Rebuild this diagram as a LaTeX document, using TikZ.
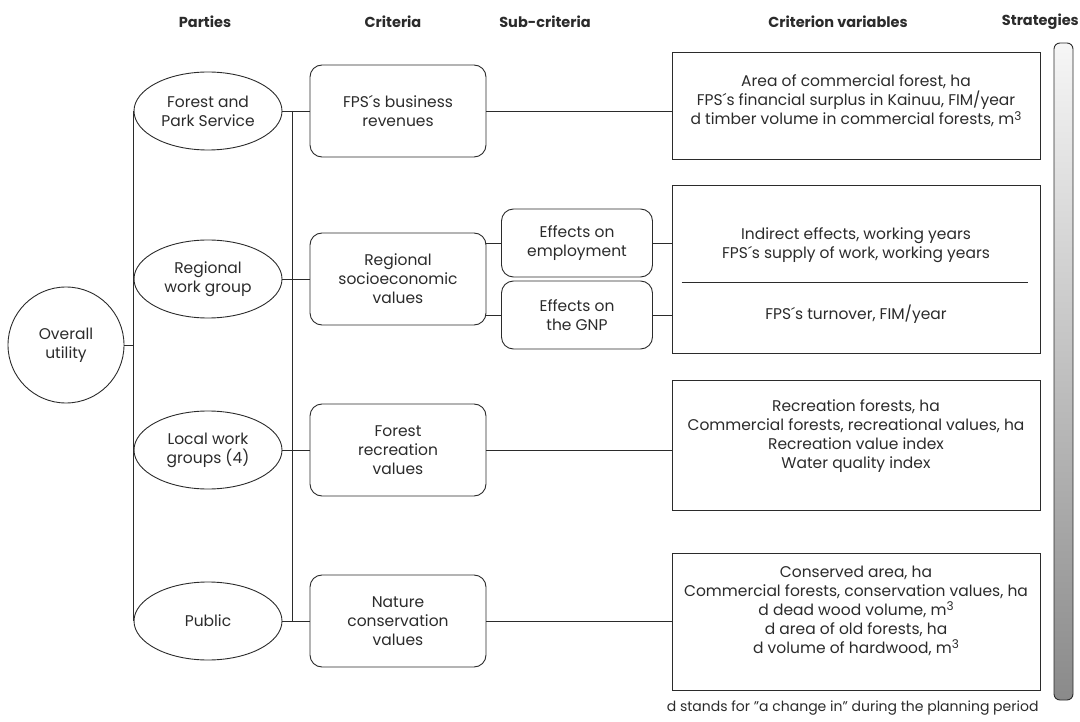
\documentclass[tikz,border=0pt]{standalone}
\usepackage{fontspec}
\setmainfont{Poppins}
\usetikzlibrary{shapes.geometric,positioning,calc}
\definecolor{ink}{HTML}{2B2B2B}
\definecolor{barlight}{HTML}{F6F6F6}
\definecolor{bardark}{HTML}{8A8A8A}
\newcommand{\cubed}{\raisebox{0.55ex}{\fontsize{12}{12}\selectfont 3}}

\tikzset{
  every node/.style={font=\fontsize{15.5}{19}\selectfont, text=ink},
  head/.style={font=\fontsize{14.5}{17}\selectfont\bfseries},
  party/.style={draw=ink, line width=0.9pt, ellipse, minimum width=148, minimum height=78, inner sep=0pt, align=center},
  crit/.style={draw=ink, line width=0.9pt, rounded corners=12, minimum width=176, minimum height=92, align=center},
  subcrit/.style={draw=ink, line width=0.9pt, rounded corners=12, minimum width=151, minimum height=68, align=center},
  varbox/.style={draw=ink, line width=0.9pt, minimum width=368},
  vartext/.style={align=center},
  link/.style={draw=ink, line width=0.9pt},
  strategybar/.style={draw=ink, line width=0.9pt, rounded corners=6, top color=barlight, bottom color=bardark, minimum width=19, minimum height=657, inner sep=0pt}
}

\begin{document}
\begin{tikzpicture}[x=1pt, y=-1pt]
\useasboundingbox (0,0) rectangle (1080,722);

% column heads
\node[head] (hparty) at (205,22) {Parties};
\node[head] (hcrit) at (393,22) {Criteria};
\node[head] (hsub) at (545,22) {Sub-criteria};
\node[head] (hvar) at (838,22) {Criterion variables};
\node[head, anchor=east, inner xsep=1pt] (hstrat) at (1080,22) {Strategies};

% root
\node[draw=ink, line width=0.9pt, circle, minimum size=116, inner sep=0pt, align=center] (overall) at (66,345) {Overall\\utility};

% parties
\node[party] (fps) at (208,111) {Forest and\\Park Service};
\node[party] (region) at (208,279) {Regional\\work group};
\node[party] (local) at (208,450) {Local work\\groups (4)};
\node[party] (public) at (208,621) {Public};

% criteria
\node[crit] (revenue) at (398,111) {FPS´s business\\revenues};
\node[crit] (socio) at (398,279) {Regional\\socioeconomic\\values};
\node[crit] (recreation) at (398,450) {Forest\\recreation\\values};
\node[crit] (nature) at (398,621) {Nature\\conservation\\values};

% sub-criteria
\node[subcrit] (employ) at (577,243) {Effects on\\employment};
\node[subcrit] (gnp) at (577,315) {Effects on\\the GNP};

% criterion variables
\node[varbox, minimum height=107] (v1) at (856,105.5) {};
\node[varbox, minimum height=168] (v2) at (856,269) {};
\node[varbox, minimum height=130] (v3) at (856,445) {};
\node[varbox, minimum height=137] (v4) at (856,621.5) {};

\node[vartext] (v1t) at (856,101) {Area of commercial forest, ha\\FPS´s financial surplus in Kainuu, FIM/year\\d timber volume in commercial forests, m\cubed};
\node[vartext] (v2t) at (856,245) {Indirect effects, working years\\FPS´s supply of work, working years};
\node[vartext] (v2b) at (856,314) {FPS´s turnover, FIM/year};
\node[vartext] (v3t) at (856,436) {Recreation forests, ha\\Commercial forests, recreational values, ha\\Recreation value index\\Water quality index};
\node[vartext] (v4t) at (856,611) {Conserved area, ha\\Commercial forests, conservation values, ha\\d dead wood volume, m\cubed\\d area of old forests, ha\\d volume of hardwood, m\cubed};
\draw[link] ($(v2.west)+(10,13)$) -- ($(v2.east)+(-12,13)$);

% strategies
\node[strategybar] (bar) at (1063.5,371.5) {};
\node[anchor=east, font=\fontsize{14}{17}\selectfont] (note) at (1042,708) {d stands for "a change in" during the planning period};

% connectors
\draw[link] (overall.east) -- (overall.east -| fps.west);
\draw[link] (fps.west) -- (public.west);
\coordinate (rtop) at ($(fps.east)+(10,0)$);
\coordinate (rbot) at ($(public.east)+(10,0)$);
\draw[link] (rtop) -- (rbot);
\draw[link] (fps.east) -- (revenue.west);
\draw[link] (region.east) -- (socio.west);
\draw[link] (local.east) -- (recreation.west);
\draw[link] (public.east) -- (nature.west);
\draw[link] (revenue.east) -- (revenue.east -| v1.west);
\draw[link] (employ.west) -- (employ.west -| socio.east);
\draw[link] (gnp.west) -- (gnp.west -| socio.east);
\draw[link] (employ.east) -- (employ.east -| v2.west);
\draw[link] (gnp.east) -- (gnp.east -| v2.west);
\draw[link] (recreation.east) -- (recreation.east -| v3.west);
\draw[link] (nature.east) -- (nature.east -| v4.west);
\end{tikzpicture}
\end{document}
